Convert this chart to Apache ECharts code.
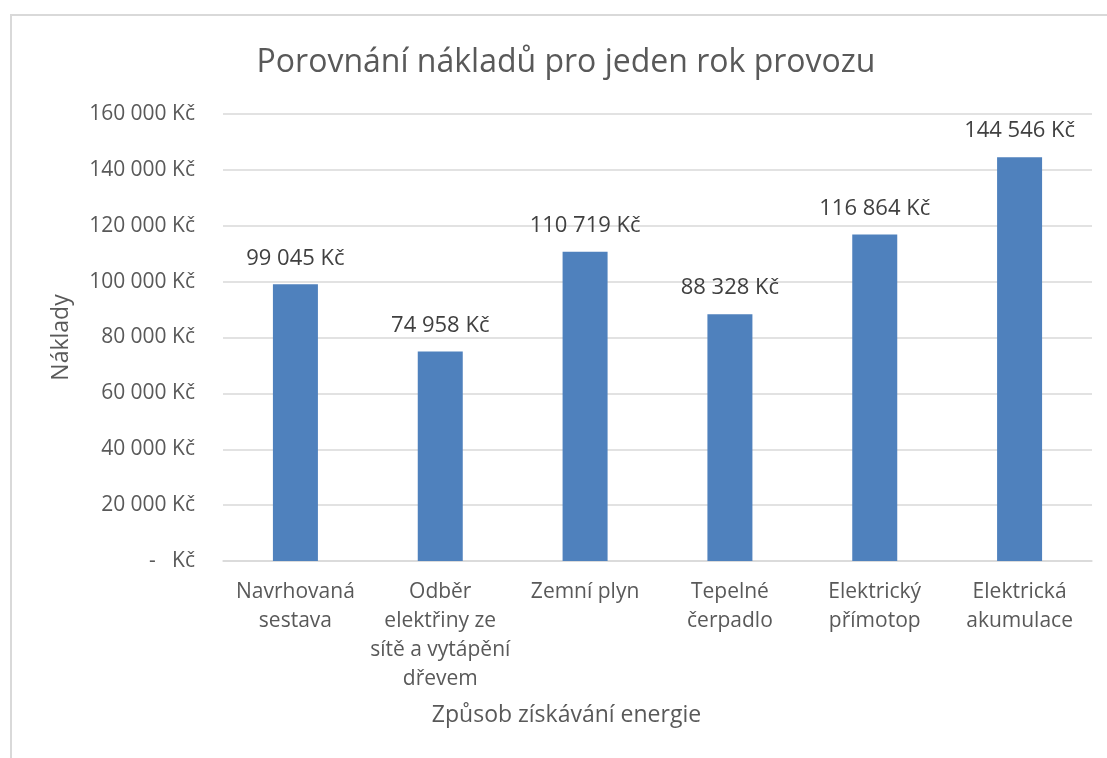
<!DOCTYPE html>
<html>
<head>
<meta charset="utf-8">
<script src="https://cdn.jsdelivr.net/npm/echarts@6/dist/echarts.min.js"></script>
<style>
html,body{margin:0;padding:0;background:#fff;}
#frame{position:absolute;left:10px;top:14px;width:1097px;height:744px;border-left:2px solid #D9D9D9;border-top:2px solid #D9D9D9;box-sizing:border-box;}
#chart{position:absolute;left:0;top:0;width:1107px;height:758px;}
</style>
</head>
<body>
<div id="frame"></div>
<div id="chart"></div>
<script>
const categories = ['Navrhovaná\nsestava', 'Odběr\nelektřiny ze\nsítě a vytápění\ndřevem', 'Zemní plyn', 'Tepelné\nčerpadlo', 'Elektrický\npřímotop', 'Elektrická\nakumulace'];
const costs = [99045, 74958, 110719, 88328, 116864, 144546];
const yTicks = [0, 20000, 40000, 60000, 80000, 100000, 120000, 140000, 160000];

function fmt(v) {
  if (v === 0) return '-   Kč';
  return String(v).replace(/\B(?=(\d{3})+(?!\d))/g, ' ') + ' Kč';
}

const FONT = 'Open Sans';
const chart = echarts.init(document.getElementById('chart'), null, {renderer: 'canvas'});
chart.setOption({
  animation: false,
  backgroundColor: 'transparent',
  title: {
    text: 'Porovnání nákladů pro jeden rok provozu',
    left: 561, top: 42, textAlign: 'center',
    textStyle: {fontFamily: FONT, fontSize: 32, fontWeight: 'normal', color: '#595959'}
  },
  grid: {left: 223, right: 15, top: 114, bottom: 197, containLabel: false},
  xAxis: {
    type: 'category',
    data: categories,
    name: 'Způsob získávání energie',
    nameLocation: 'middle',
    nameGap: 143,
    nameTextStyle: {fontFamily: FONT, fontSize: 23, color: '#595959', padding: [0, 182, 0, 0]},
    axisLine: {show: true, lineStyle: {color: '#D9D9D9', width: 1.5}},
    axisTick: {show: false},
    axisLabel: {fontFamily: FONT, fontSize: 21, color: '#595959', lineHeight: 29, margin: 17, interval: 0, verticalAlign: 'top'}
  },
  yAxis: {
    type: 'value',
    min: yTicks[0], max: yTicks[yTicks.length - 1], interval: yTicks[1] - yTicks[0],
    name: 'Náklady',
    nameLocation: 'middle',
    nameGap: 150,
    nameRotate: 90,
    nameTextStyle: {fontFamily: FONT, fontSize: 23, color: '#595959'},
    axisLine: {show: false},
    axisTick: {show: false},
    splitLine: {lineStyle: {color: '#D9D9D9', width: 1.5}},
    axisLabel: {fontFamily: FONT, fontSize: 21, color: '#595959', margin: 28, formatter: v => fmt(v)}
  },
  series: [{
    type: 'bar',
    data: costs,
    barWidth: 45,
    itemStyle: {color: '#4F81BD'},
    label: {show: true, position: 'top', distance: 15, fontFamily: FONT, fontSize: 22, color: '#404040', formatter: p => fmt(p.value)}
  }]
});
</script>
</body>
</html>
